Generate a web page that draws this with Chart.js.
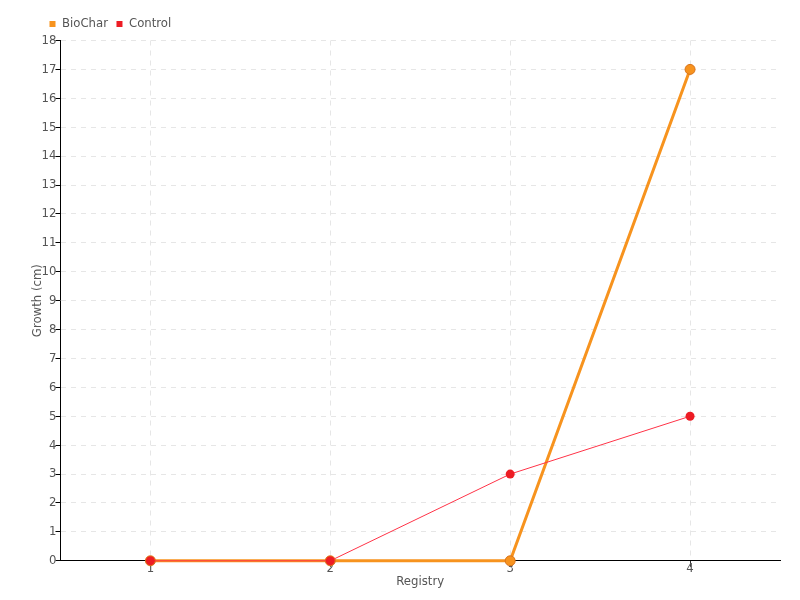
<!DOCTYPE html>
<html>
<head>
<meta charset="utf-8">
<script src="https://cdn.jsdelivr.net/npm/chart.js@4/dist/chart.umd.min.js"></script>
<style>
  html, body { margin: 0; padding: 0; background: #fff; }
  #wrap { width: 800px; height: 600px; }
</style>
</head>
<body>
<div id="wrap"><canvas id="growthChart" width="800" height="600"></canvas></div>
<script>
const registry = ['1', '2', '3', '4'];
const biocharGrowth = [0, 0, 0, 17];
const controlGrowth = [0, 0, 3, 5];

// font-stretch keyword goes through the weight slot of the font string
Chart.defaults.font.family = "'DejaVu Sans'";
Chart.defaults.font.weight = 'condensed';
Chart.defaults.font.size = 13;
Chart.defaults.color = '#555';

// move the legend to where the reference has it
const legendShift = {
    id: 'legendShift',
    afterLayout(chart) {
        const lg = chart.legend;
        const w = lg.right - lg.left;
        lg.left = 41;
        lg.right = 41 + w;
    }
};

new Chart(document.getElementById('growthChart'), {
    type: 'line',
    data: {
        labels: registry,
        datasets: [
            {
                label: 'BioChar',
                data: biocharGrowth,
                borderColor: '#f7931e',
                backgroundColor: '#f7931e',
                borderWidth: 3,
                pointRadius: 5,
                pointBorderWidth: 1,
                pointBorderColor: '#d9731a',
                pointBackgroundColor: '#f7931e',
                tension: 0,
                clip: false,
                order: 1
            },
            {
                label: 'Control',
                data: controlGrowth,
                borderColor: '#ff3347',
                backgroundColor: '#ed1c24',
                borderWidth: 1,
                pointRadius: 4.5,
                pointBorderWidth: 0,
                pointBackgroundColor: '#ed1c24',
                tension: 0,
                clip: false,
                order: 0
            }
        ]
    },
    options: {
        responsive: false,
        animation: false,
        layout: { padding: { top: 9, right: 20, bottom: 11, left: 28 } },
        plugins: {
            tooltip: { enabled: false },
            legend: {
                position: 'top',
                align: 'start',
                labels: {
                    boxWidth: 6,
                    boxHeight: 6,
                    padding: 8.5,
                    color: '#555',
                    font: { size: 13 },
                    generateLabels: (chart) => chart.data.datasets.map((ds, i) => ({
                        text: ds.label,
                        fillStyle: ds.backgroundColor,
                        strokeStyle: ds.backgroundColor,
                        fontColor: '#555',
                        lineWidth: 0,
                        datasetIndex: i,
                        hidden: false
                    }))
                }
            }
        },
        scales: {
            x: {
                offset: true,
                title: { display: true, text: 'Registry', color: '#555', padding: { top: 3, bottom: 0 } },
                grid: {
                    color: '#e6e6e6',
                    tickColor: '#333',
                    tickLength: 6,
                    offset: false
                },
                border: { color: '#000', dash: [5, 5] },
                ticks: { color: '#555', padding: -6 }
            },
            y: {
                min: 0,
                max: 18,
                title: { display: true, text: 'Growth (cm)', color: '#555', padding: { top: 2, bottom: -3 } },
                grid: {
                    color: '#e6e6e6',
                    tickColor: '#000',
                    tickLength: 5
                },
                border: { color: '#000', dash: [5, 5] },
                ticks: { stepSize: 1, color: '#555', padding: -1 }
            }
        }
    },
    plugins: [legendShift]
});
</script>
</body>
</html>
